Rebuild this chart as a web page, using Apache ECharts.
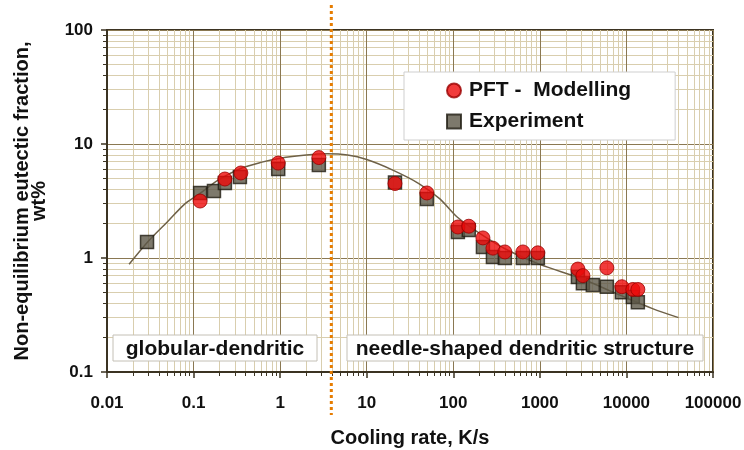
<!DOCTYPE html>
<html><head><meta charset="utf-8">
<script src="https://cdn.jsdelivr.net/npm/echarts@6/dist/echarts.min.js"></script>
<style>html,body{margin:0;padding:0;background:#fff}#c{width:744px;height:450px}</style>
</head><body><div id="c"></div>
<script>
// ---- data ----
const pftX = [0.119, 0.23, 0.352, 0.95, 2.8, 21.2, 49.5, 113, 151, 220, 287, 394, 637, 948, 2750, 3140, 5940, 8850, 11860, 13550];
const pftY = [3.16, 4.93, 5.57, 6.8, 7.6, 4.5, 3.72, 1.87, 1.9, 1.5, 1.22, 1.13, 1.13, 1.11, 0.80, 0.70, 0.82, 0.56, 0.53, 0.53];
const expX = [0.029, 0.119, 0.172, 0.23, 0.343, 0.95, 2.8, 21.2, 49.5, 113, 151, 220, 287, 394, 637, 948, 2750, 3140, 4090, 5940, 8850, 11860, 13550];
const expY = [1.38, 3.72, 3.87, 4.55, 5.14, 6.04, 6.55, 4.6, 3.3, 1.69, 1.76, 1.25, 1.02, 1.0, 1.0, 1.0, 0.68, 0.60, 0.58, 0.56, 0.50, 0.455, 0.41];
const curveX = [0.018, 0.03, 0.05, 0.08, 0.12, 0.19, 0.35, 0.6, 1.0, 2, 3.5, 6, 10, 20, 40, 70, 110, 200, 400, 1000, 3000, 8000, 20000, 40000];
const curveY = [0.88, 1.40, 2.08, 3.0, 3.7, 4.8, 6.1, 6.9, 7.5, 8.0, 8.2, 8.0, 7.3, 5.9, 4.5, 3.3, 2.3, 1.65, 1.2, 0.88, 0.66, 0.48, 0.36, 0.30];
const boundaryX = 3.9;
const xRange = [0.01, 100000];
const yRange = [0.1, 100];
const seriesNames = ['PFT -  Modelling', 'Experiment'];
const regionLabels = ['globular-dendritic', 'needle-shaped dendritic structure'];
const xName = 'Cooling rate, K/s';
const yName = 'Non-equilibrium eutectic fraction,\nwt%';

const FONT = '"Liberation Sans", Arial, sans-serif';
const zip = (a, b) => a.map((v, i) => [v, b[i]]);
const fmt = v => String(+Number(v).toPrecision(6));

const chart = echarts.init(document.getElementById('c'), null, {renderer: 'canvas'});
const major = '#8a7852', minor = '#d9ceae', axisC = '#3b3322';

const axisCommon = {
  type: 'log', logBase: 10,
  axisLine: {show: true, lineStyle: {color: axisC, width: 2}},
  axisTick: {show: true, inside: false, length: 6, lineStyle: {color: axisC, width: 1.5}},
  minorTick: {show: true, splitNumber: 9, length: 4, lineStyle: {color: axisC, width: 1}},
  splitLine: {show: true, lineStyle: {color: major, width: 1}},
  minorSplitLine: {show: true, lineStyle: {color: minor, width: 1}},
  axisLabel: {color: '#111', fontFamily: FONT, fontWeight: 'bold', fontSize: 17, formatter: fmt},
  nameTextStyle: {color: '#111', fontFamily: FONT, fontWeight: 'bold', fontSize: 20}
};

chart.setOption({
  animation: false,
  backgroundColor: '#fff',
  grid: {left: 107, right: 31, top: 30, bottom: 78, outerBoundsMode: 'none', containLabel: false,
         show: true, borderColor: axisC, borderWidth: 2, backgroundColor: '#fff'},
  xAxis: Object.assign({}, axisCommon, {
    min: xRange[0], max: xRange[1],
    name: xName, nameLocation: 'middle', nameGap: 56,
    axisLabel: Object.assign({}, axisCommon.axisLabel, {margin: 23})
  }),
  yAxis: Object.assign({}, axisCommon, {
    min: yRange[0], max: yRange[1],
    name: yName, nameLocation: 'middle', nameGap: 59,
    nameTextStyle: Object.assign({}, axisCommon.nameTextStyle, {lineHeight: 17}),
    axisLabel: Object.assign({}, axisCommon.axisLabel, {margin: 14})
  }),
  legend: {
    data: [
      {name: seriesNames[0], icon: 'circle'},
      {name: seriesNames[1], icon: 'rect'}
    ],
    orient: 'vertical', left: 404, top: 72,
    padding: [8, 44, 8, 42], itemGap: 10, itemWidth: 14, itemHeight: 14,
    backgroundColor: '#fff', borderColor: '#cfcfcf', borderWidth: 1,
    textStyle: {color: '#111', fontFamily: FONT, fontWeight: 'bold', fontSize: 21, padding: [0, 0, 0, 3]}
  },
  series: [
    {
      type: 'line', name: 'curve', data: zip(curveX, curveY), smooth: 0.3,
      showSymbol: false, symbol: 'none', silent: true, z: 2,
      lineStyle: {color: '#6e6148', width: 1.5}
    },
    {
      type: 'scatter', name: seriesNames[1], data: zip(expX, expY), z: 3,
      symbol: 'rect', symbolSize: 13,
      itemStyle: {color: '#5d5747', borderColor: '#1f1b12', borderWidth: 1.5}
    },
    {
      type: 'scatter', name: seriesNames[0], data: zip(pftX, pftY), z: 4,
      symbol: 'circle', symbolSize: 14,
      itemStyle: {color: '#ee0a0a', borderColor: '#9a0000', borderWidth: 1}
    }
  ]
});

const bx = chart.convertToPixel({xAxisIndex: 0}, boundaryX);
chart.setOption({
  graphic: [
    {type: 'line', shape: {x1: bx, y1: 5, x2: bx, y2: 415}, z: 10,
     style: {stroke: '#e67c00', lineWidth: 3, lineDash: [3, 3]}},
    {type: 'rect', shape: {x: 113, y: 335, width: 204, height: 26}, z: 5,
     style: {fill: '#fff', stroke: '#c4c0b6', lineWidth: 1}},
    {type: 'text', x: 215, y: 349, z: 6,
     style: {text: regionLabels[0], font: 'bold 21px ' + FONT, fill: '#111', align: 'center', verticalAlign: 'middle'}},
    {type: 'rect', shape: {x: 347, y: 335, width: 356, height: 26}, z: 5,
     style: {fill: '#fff', stroke: '#c4c0b6', lineWidth: 1}},
    {type: 'text', x: 525, y: 349, z: 6,
     style: {text: regionLabels[1], font: 'bold 21px ' + FONT, fill: '#111', align: 'center', verticalAlign: 'middle'}}
  ]
});
</script></body></html>
